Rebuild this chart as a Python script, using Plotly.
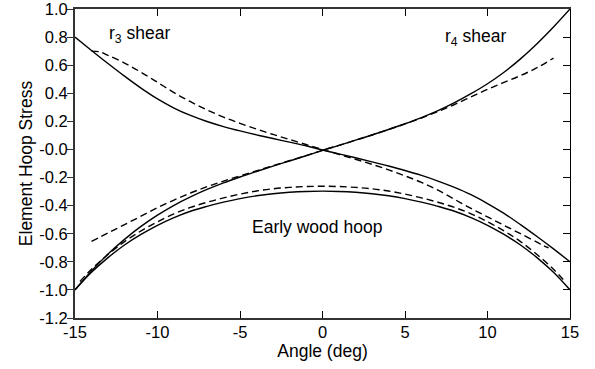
import plotly.graph_objects as go

# ---------------- data ----------------
x_full = [-15, -14, -13, -12, -11, -10, -9, -8, -7, -6, -5, -4, -3, -2, -1, 0,
          1, 2, 3, 4, 5, 6, 7, 8, 9, 10, 11, 12, 13, 14, 15]

r4_solid = [-1.00, -0.865, -0.745, -0.64, -0.548, -0.468, -0.398, -0.338, -0.285, -0.238, -0.196,
            -0.157, -0.119, -0.082, -0.045, -0.006, 0.029, 0.066, 0.103, 0.142, 0.183,
            0.227, 0.276, 0.333, 0.397, 0.468, 0.55, 0.645, 0.753, 0.872, 1.00]

r3_solid = [0.80, 0.705, 0.612, 0.522, 0.437, 0.36, 0.295, 0.242, 0.199, 0.163, 0.132,
            0.104, 0.078, 0.052, 0.026, -0.004, -0.031, -0.059, -0.088, -0.118, -0.15,
            -0.185, -0.225, -0.27, -0.322, -0.385, -0.455, -0.535, -0.62, -0.708, -0.80]

early_solid = [-1.00, -0.875, -0.77, -0.68, -0.605, -0.54, -0.485, -0.44, -0.405, -0.375, -0.35,
               -0.33, -0.315, -0.305, -0.299, -0.297, -0.299, -0.305, -0.315, -0.33, -0.35,
               -0.375, -0.405, -0.44, -0.485, -0.54, -0.605, -0.68, -0.77, -0.875, -1.00]

x_r4_dash = [-14, -13, -12, -11, -10, -9, -8, -7, -6, -5, -4, -3, -2, -1, 0,
             1, 2, 3, 4, 5, 6, 7, 8, 9, 10, 11, 12, 13, 14]
r4_dash = [-0.655, -0.595, -0.535, -0.475, -0.415, -0.36, -0.31, -0.265, -0.225, -0.188,
           -0.152, -0.116, -0.08, -0.044, -0.006, 0.029, 0.066, 0.103, 0.142, 0.182,
           0.224, 0.27, 0.32, 0.374, 0.428, 0.478, 0.526, 0.582, 0.65]

x_r3_dash = [-14, -13.5, -13, -12, -11, -10, -9, -8, -7, -6, -5, -4, -3, -2, -1, 0,
             1, 2, 3, 4, 5, 6, 7, 8, 9, 10, 11, 12, 13, 13.4, 13.7]
r3_dash = [0.70, 0.695, 0.67, 0.615, 0.55, 0.478, 0.405, 0.34, 0.282, 0.23, 0.186,
           0.145, 0.107, 0.071, 0.035, 0.0, -0.035, -0.07, -0.106, -0.145, -0.188,
           -0.235, -0.29, -0.355, -0.42, -0.48, -0.54, -0.60, -0.66, -0.685, -0.70]

x_early_dash = [-14.7, -14, -13, -12, -11, -10, -9, -8, -7, -6, -5, -4, -3, -2, -1, 0,
                1, 2, 3, 4, 5, 6, 7, 8, 9, 10, 11, 12, 13, 14, 14.7]
early_dash = [-0.94, -0.853, -0.748, -0.656, -0.58, -0.515, -0.458, -0.413, -0.376, -0.345, -0.318,
              -0.296, -0.28, -0.27, -0.264, -0.262, -0.264, -0.27, -0.28, -0.296, -0.318,
              -0.345, -0.376, -0.413, -0.458, -0.515, -0.58, -0.656, -0.748, -0.853, -0.94]

y_ticks = [1.0, 0.8, 0.6, 0.4, 0.2, 0.0, -0.2, -0.4, -0.6, -0.8, -1.0, -1.2]
y_tick_text = ["1.0", "0.8", "0.6", "0.4", "0.2", "-0.0", "-0.2", "-0.4", "-0.6", "-0.8", "-1.0", "-1.2"]
x_ticks = [-15, -10, -5, 0, 5, 10, 15]
x_tick_text = ["-15", "-10", "-5", "0", "5", "10", "15"]

FONT = "Liberation Sans, Arial, Helvetica, sans-serif"
FS_TICK = 16.5
FS_TEXT = 17.5
LW = 1.4
DASH = "7px,4px"

fig = go.Figure()

def add(x, y, dash=None):
    fig.add_trace(go.Scatter(x=x, y=y, mode="lines", showlegend=False,
                             line=dict(color="black", width=LW, shape="spline",
                                       smoothing=1.0, dash=dash if dash else "solid"),
                             hoverinfo="skip"))

add(x_full, r3_solid)
add(x_full, r4_solid)
add(x_full, early_solid)
add(x_r3_dash, r3_dash, DASH)
add(x_r4_dash, r4_dash, DASH)
add(x_early_dash, early_dash, DASH)

# dummy trace so the right-hand y axis is drawn
fig.add_trace(go.Scatter(x=[0], y=[0], yaxis="y2", mode="markers",
                         marker=dict(opacity=0), showlegend=False, hoverinfo="skip"))

fig.update_layout(
    width=595, height=369,
    margin=dict(l=75, r=25, t=9, b=51),
    paper_bgcolor="white", plot_bgcolor="white",
    font=dict(family=FONT, size=FS_TEXT, color="black"),
    xaxis=dict(range=[-15, 15], tickvals=x_ticks, ticktext=x_tick_text,
               ticks="inside", ticklen=7, tickwidth=1.3, tickcolor="black",
               showline=True, linewidth=2, linecolor="#333", mirror="ticks",
               showgrid=False, zeroline=False, automargin=False,
               ticklabeloverflow="allow", ticklabelstandoff=-2,
               title=dict(text="Angle (deg)", standoff=3, font=dict(size=FS_TEXT)),
               tickfont=dict(size=FS_TICK)),
    yaxis=dict(range=[-1.2, 1.0], tickvals=y_ticks, ticktext=y_tick_text,
               ticks="outside", ticklen=6, tickwidth=1.3, tickcolor="#333",
               showline=True, linewidth=2, linecolor="#333",
               showgrid=False, zeroline=False, automargin=False,
               ticklabeloverflow="allow", ticklabelstandoff=-4,
               title=dict(text="Element Hoop Stress", standoff=2, font=dict(size=FS_TEXT)),
               tickfont=dict(size=FS_TICK)),
    yaxis2=dict(range=[-1.2, 1.0], overlaying="y", side="right", tickvals=y_ticks,
                ticks="inside", ticklen=7, tickwidth=1.3, tickcolor="black",
                showticklabels=False, showline=True, linewidth=1.3, linecolor="black",
                showgrid=False, zeroline=False, automargin=False),
)

fig.add_annotation(x=-11.1, y=0.815, text="r<sub>3</sub> shear", showarrow=False,
                   font=dict(size=FS_TEXT), xanchor="center", yanchor="middle")
fig.add_annotation(x=9.25, y=0.80, text="r<sub>4</sub> shear", showarrow=False,
                   font=dict(size=FS_TEXT), xanchor="center", yanchor="middle")
fig.add_annotation(x=-0.33, y=-0.55, text="Early wood hoop", showarrow=False,
                   font=dict(size=FS_TEXT), xanchor="center", yanchor="middle")

fig.write_html("out.html")
